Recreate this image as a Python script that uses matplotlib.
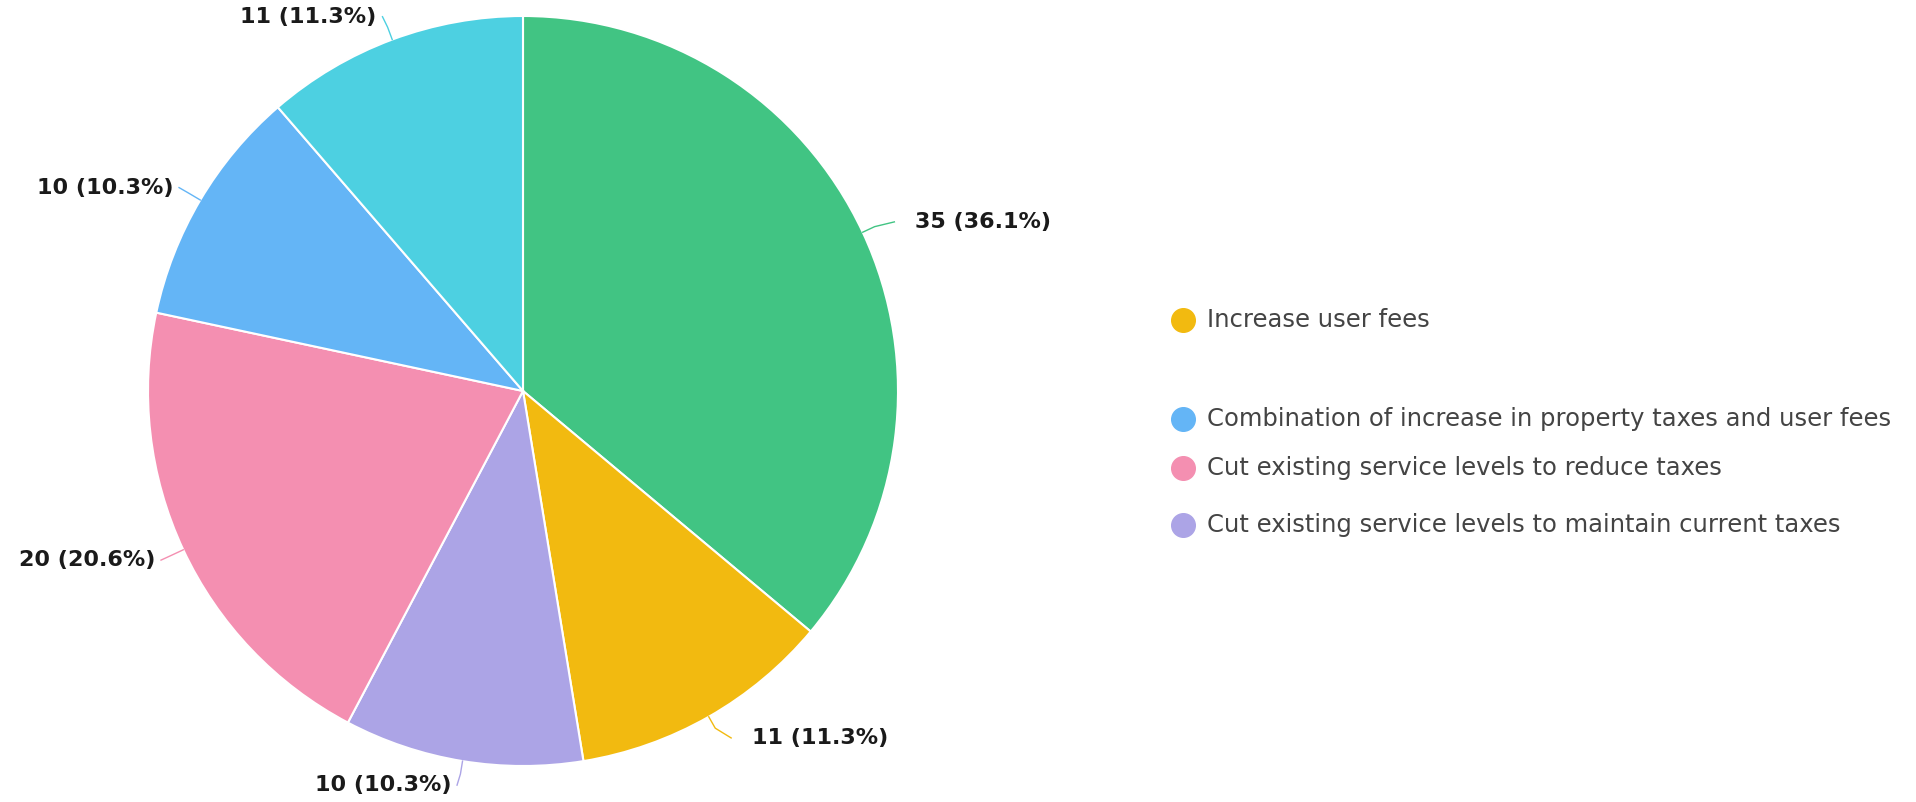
import numpy as np
import matplotlib.pyplot as plt

# -----------------------------
# DATA
# -----------------------------
categories = [
    "Increase property taxes",
    "Increase user fees",
    "Cut existing service levels to maintain current taxes",
    "Cut existing service levels to reduce taxes",
    "Combination of increase in property taxes and user fees",
    "Other",
]
values = [35, 11, 10, 20, 10, 11]
colors = ["#41C483", "#F2BA10", "#ACA4E6", "#F48FB1", "#64B5F6", "#4DD0E1"]

# legend entries actually visible in the picture (index into categories)
legend_idx = [1, 4, 3, 2]
legend_y = [320, 419, 468, 525]   # pixel rows of the legend items

W, H = 1916, 802
fig = plt.figure(figsize=(W / 100, H / 100), dpi=100)

# pie centre (523, 391), radius 375 px
cx, cy, r = 523, 391, 375
ax = fig.add_axes([(cx - r) / W, (H - cy - r) / H, 2 * r / W, 2 * r / H])

wedges, _ = ax.pie(
    values, colors=colors, startangle=90, counterclock=False, radius=1.0,
    wedgeprops=dict(edgecolor="white", linewidth=1.5),
)
ax.set_xlim(-1, 1)
ax.set_ylim(-1, 1)
ax.set_aspect("equal")
ax.axis("off")

total = sum(values)
for w, v, c in zip(wedges, values, colors):
    ang = np.deg2rad((w.theta1 + w.theta2) / 2)
    ca, sa = np.cos(ang), np.sin(ang)
    side = 1 if ca >= 0 else -1
    # right-hand labels sit a bit further out than the left-hand ones
    tail, gap = (0.03, 0.055) if side > 0 else (0.005, 0.016)
    x0, y0 = ca, sa
    x1, y1 = 1.035 * ca, 1.035 * sa
    x2, y2 = 1.06 * ca + side * tail, 1.065 * sa
    ax.plot([x0, x1, x2], [y0, y1, y2], color=c, lw=1.0, clip_on=False)
    ax.text(x2 + side * gap, y2, f"{v} ({v / total * 100:.1f}%)",
            ha="left" if side > 0 else "right", va="center",
            fontsize=16, fontweight="bold", color="#1a1a1a")

# -----------------------------
# LEGEND (drawn by hand, uneven spacing as in the picture)
# -----------------------------
for i, yy in zip(legend_idx, legend_y):
    fy = 1 - yy / H
    fig.add_artist(plt.Line2D([1183 / W], [fy], marker="o", markersize=17,
                              color=colors[i], linestyle="none",
                              transform=fig.transFigure))
    fig.text(1207 / W, fy, categories[i], ha="left", va="center",
             fontsize=17.5, color="#444444")

fig.savefig("out.png", dpi=100, facecolor="white")
